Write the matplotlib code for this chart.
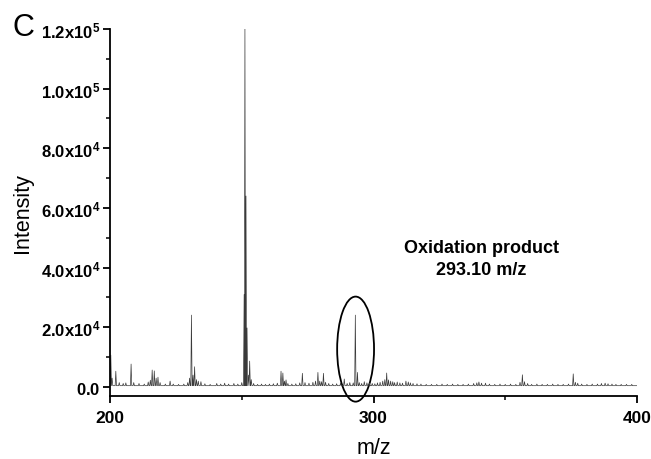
import numpy as np
import matplotlib
matplotlib.use('Agg')
import matplotlib.pyplot as plt
from matplotlib.patches import Ellipse
from matplotlib.ticker import FixedLocator, MultipleLocator

plt.rcParams['font.family'] = ['Liberation Sans', 'DejaVu Sans']
plt.rcParams['mathtext.fontset'] = 'custom'
plt.rcParams['mathtext.rm'] = 'Liberation Sans'
plt.rcParams['mathtext.bf'] = 'Liberation Sans:bold'

# peak list (m/z, intensity)
peak_mz = [200.3, 200.8, 202.2, 203.5, 205.0, 206.0, 208.0, 209.0, 211.0, 213.0,
           214.5, 215.3, 216.0, 216.8, 217.5, 218.2, 219.0, 221.0, 222.8, 224.0,
           226.0, 228.0, 229.5, 230.2, 230.9, 231.5, 232.1, 232.8, 233.5, 234.5,
           236.0, 238.0, 240.5, 242.0, 243.5, 245.0, 247.0, 248.5, 250.0,
           250.9, 251.2, 251.6, 252.0, 252.5, 253.0, 253.6, 254.5, 256.0, 257.5,
           259.0, 260.5, 262.0, 263.5, 264.9, 265.6, 266.2, 266.8, 267.5, 269.0,
           270.5, 272.0, 273.0, 274.0, 275.5, 277.0, 278.0, 278.9, 279.6, 280.3,
           281.0, 281.8, 283.0, 284.5, 286.0, 287.5, 288.9, 290.0, 291.0, 292.3,
           293.1, 293.9, 294.6, 295.5, 296.5, 297.5, 298.5, 299.5, 300.5, 301.5,
           302.5, 303.5, 304.3, 305.0, 305.7, 306.5, 307.3, 308.0, 309.0, 310.0,
           311.0, 312.3, 313.2, 314.0, 315.0, 316.5, 318.0, 320.0, 322.0, 324.0,
           326.0, 328.0, 330.0, 332.0, 334.0, 336.0, 338.0, 339.2, 340.0, 341.0,
           342.5, 344.0, 346.0, 348.0, 350.0, 352.0, 354.0, 355.6, 356.5, 357.3,
           358.5, 360.0, 362.0, 364.0, 366.0, 368.0, 370.0, 372.0, 374.0, 375.8,
           376.6, 377.5, 379.0, 381.0, 383.0, 385.0, 386.5, 387.9, 389.0, 390.5,
           392.0, 394.0, 396.0, 398.0]
peak_int = [10700, 3000, 5300, 1500, 1200, 1400, 7700, 1500, 1200, 1000,
            1700, 2300, 5700, 5400, 3000, 3300, 1500, 1000, 2000, 1000,
            900, 1000, 1500, 3000, 24100, 4000, 6800, 2500, 2000, 1800,
            1100, 900, 1200, 1000, 1300, 1000, 1200, 1000, 1500,
            31000, 120000, 64000, 19800, 4000, 8700, 2500, 1200, 900, 1000,
            900, 1000, 1100, 1300, 5300, 4700, 2000, 2400, 1200, 1000,
            1100, 1400, 4600, 1500, 1300, 1600, 2000, 4900, 2000, 1800,
            4600, 1600, 1200, 1000, 1100, 1300, 2700, 1200, 1500, 1400,
            24100, 4900, 1500, 1200, 1800, 1400, 1300, 1200, 1100, 1400,
            1600, 2000, 2500, 4700, 2400, 2000, 1800, 1500, 1700, 1400,
            1300, 2000, 1700, 1400, 1200, 1100, 1000, 900, 900, 900,
            1000, 900, 1000, 900, 900, 1000, 1200, 1400, 1700, 1300,
            1300, 1000, 900, 1000, 900, 1000, 900, 1600, 4100, 1800,
            1200, 900, 1000, 900, 900, 1000, 900, 900, 1000, 4400,
            1600, 1300, 1000, 900, 1000, 1000, 1200, 1300, 1100, 1000,
            900, 900, 900, 900]
baseline = 450

y_ticks = [0, 20000, 40000, 60000, 80000, 100000, 120000]
y_labels = [r'$\mathbf{0.0}$', r'$\mathbf{2.0x10^4}$', r'$\mathbf{4.0x10^4}$',
            r'$\mathbf{6.0x10^4}$', r'$\mathbf{8.0x10^4}$', r'$\mathbf{1.0x10^5}$',
            r'$\mathbf{1.2x10^5}$']
x_ticks = [200, 300, 400]

# build the profile: each stick rises from the baseline and falls back
order = np.argsort(peak_mz)
xs, ys = [200.0], [baseline]
for i in order:
    m, h = peak_mz[i], peak_int[i]
    xs += [m - 0.25, m, m + 0.25]
    ys += [baseline, h, baseline]
xs.append(400.0)
ys.append(baseline)

fig = plt.figure(figsize=(6.51, 4.60), dpi=100)
ax = fig.add_axes([0.169, 0.137, 0.8095, 0.798])
ax.plot(xs, ys, color='#3a3a3a', lw=0.5)

ax.set_xlim(200, 400)
ax.set_ylim(-3000, 120000)
ax.spines['top'].set_visible(False)
ax.spines['right'].set_visible(False)
for s in ['left', 'bottom']:
    ax.spines[s].set_linewidth(1.3)

ax.yaxis.set_major_locator(FixedLocator(y_ticks))
ax.set_yticklabels(y_labels)
ax.yaxis.set_minor_locator(MultipleLocator(10000))
ax.xaxis.set_major_locator(FixedLocator(x_ticks))
ax.set_xticklabels([str(t) for t in x_ticks], fontweight='bold')
ax.xaxis.set_minor_locator(MultipleLocator(50))
ax.tick_params(axis='both', which='major', direction='out', length=5, width=1.3)
ax.tick_params(axis='both', which='minor', direction='out', length=3, width=1.1)
ax.tick_params(axis='y', pad=2, labelsize=12)
ax.tick_params(axis='x', pad=5, labelsize=12.5)

ax.set_ylabel('Intensity', fontsize=15.5, labelpad=6)
ax.set_xlabel('m/z', fontsize=15.5, labelpad=9)

ax.text(341, 43000, 'Oxidation product\n293.10 m/z', ha='center', va='center',
        fontsize=13, fontweight='bold', linespacing=1.35)
ax.add_patch(Ellipse((293.2, 12700), 14, 35200, fill=False, lw=1.3,
                     edgecolor='black', clip_on=False))

fig.text(0.036, 0.94, 'C', fontsize=22, ha='center', va='center')

fig.savefig('out.png', dpi=100)
